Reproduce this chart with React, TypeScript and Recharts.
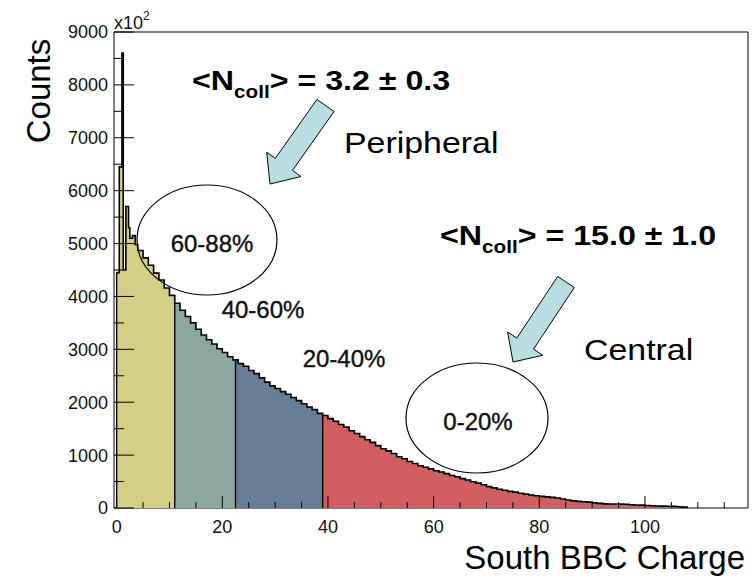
import React from 'react';
import { ComposedChart, Area, Line, XAxis, YAxis, ReferenceLine } from 'recharts';

// Fine bins at the start of the spectrum (low edges) and their counts
const fineEdges = [0, 0.5, 1, 1.25, 1.75, 2.25, 2.5, 3, 3.5];
const fineCounts = [4450, 6450, 8600, 4500, 5700, 5300, 5100, 5150, 4980];

// Unit-width bins starting at charge = 4
const unitStart = 4;
const unitCounts = [
  4870, 4730, 4590, 4440, 4310, 4160, 4020, 3870, 3740, 3620,
  3500, 3380, 3270, 3180, 3100, 3010, 2940, 2860, 2800, 2730,
  2680, 2600, 2540, 2460, 2380, 2310, 2260, 2200, 2150, 2090,
  2030, 1970, 1910, 1860, 1790, 1750, 1690, 1640, 1580, 1530,
  1460, 1410, 1350, 1290, 1240, 1180, 1120, 1080, 1030, 970,
  930, 880, 840, 800, 770, 740, 705, 680, 650, 615,
  590, 555, 530, 495, 470, 440, 405, 380, 355, 335,
  315, 300, 280, 262, 245, 232, 220, 210, 200, 188,
  170, 150, 134, 125, 118, 112, 100, 88, 78, 76,
  75, 74, 70, 62, 58, 55, 48, 42, 38, 35,
  32, 30, 25, 16,
];
const endEdge = 108;

// Centrality classes
const classNames = ['c60_88', 'c40_60', 'c20_40', 'c0_20'];
const classEdges = [0, 11, 22.5, 39, 108];
const classColors = ['#d3cf86', '#8ba8a0', '#667f97', '#d15e60'];
const classLabels = ['60-88%', '40-60%', '20-40%', '0-20%'];

const yTicks = [0, 500, 1000, 1500, 2000, 2500, 3000, 3500, 4000, 4500, 5000, 5500, 6000, 6500, 7000, 7500, 8000, 8500, 9000];
const xTicks = [0, 5, 10, 15, 20, 25, 30, 35, 40, 45, 50, 55, 60, 65, 70, 75, 80, 85, 90, 95, 100, 105, 110, 115];

const edges: number[] = [...fineEdges, ...unitCounts.map((_, i) => unitStart + i), endEdge];
const vals: number[] = [...fineCounts, ...unitCounts, 0];

const binValue = (x: number) => {
  let idx = 0;
  for (let i = 0; i < edges.length; i++) if (edges[i] <= x) idx = i;
  return vals[idx];
};

const allX = Array.from(new Set([...edges, ...classEdges])).sort((a, b) => a - b);
const rows = allX.map((x) => {
  const y = binValue(x);
  const row: any = { x, y };
  classNames.forEach((n, k) => {
    row[n] = x >= classEdges[k] && x <= classEdges[k + 1] ? y : null;
  });
  return row;
});

const FONT = '"Liberation Sans", Arial, Helvetica, sans-serif';

const XTick = (props: any) => {
  const { x, y, payload } = props;
  const v = payload.value;
  const major = v % 20 === 0;
  return (
    <g>
      <line x1={x} x2={x} y1={y} y2={y - (major ? 12 : 6)} stroke="#000" strokeWidth={1} />
      {major && (
        <text x={x} y={y + 25} textAnchor="middle" fontFamily={FONT} fontSize={18} fill="#111">
          {v}
        </text>
      )}
    </g>
  );
};

const YTick = (props: any) => {
  const { x, y, payload } = props;
  const v = payload.value;
  const major = v % 1000 === 0;
  return (
    <g>
      <line x1={x + 6} x2={x + 6 + (major ? 20 : 10)} y1={y} y2={y} stroke="#000" strokeWidth={1} />
      {major && (
        <text x={x} y={y} dy="0.36em" textAnchor="end" fontFamily={FONT} fontSize={18} fill="#111">
          {v}
        </text>
      )}
    </g>
  );
};

type Pt = [number, number];
const arrowPoints = (T: Pt, P: Pt, sw: number, hw: number, hl: number) => {
  const dx = P[0] - T[0];
  const dy = P[1] - T[1];
  const L = Math.hypot(dx, dy);
  const ux = dx / L, uy = dy / L;
  const nx = -uy, ny = ux;
  const B: Pt = [P[0] - ux * hl, P[1] - uy * hl];
  const pts: Pt[] = [
    [T[0] + nx * sw, T[1] + ny * sw],
    [B[0] + nx * sw, B[1] + ny * sw],
    [B[0] + nx * hw, B[1] + ny * hw],
    P,
    [B[0] - nx * hw, B[1] - ny * hw],
    [B[0] - nx * sw, B[1] - ny * sw],
    [T[0] - nx * sw, T[1] - ny * sw],
  ];
  return pts.map((p) => p.join(',')).join(' ');
};

const NcollLabel = ({ x, y, value }: { x: number; y: number; value: string }) => (
  <g transform={`translate(${x},${y}) scale(1.15,1)`}>
    <text x={0} y={0} fontFamily={FONT} fontWeight="bold" fontSize={28} fill="#000">
      {'<N'}
      <tspan fontSize={18} dy={8}>coll</tspan>
      <tspan dy={-8}>{'> = ' + value}</tspan>
    </text>
  </g>
);

const WideText = ({ x, y, children, size }: { x: number; y: number; children: any; size: number }) => (
  <g transform={`translate(${x},${y}) scale(1.13,1)`}>
    <text x={0} y={0} fontFamily={FONT} fontSize={size} fill="#000">
      {children}
    </text>
  </g>
);

export default function App() {
  return (
    <div style={{ position: 'absolute', left: 0, top: 0, width: 756, height: 583, background: '#fff' }}>
      <ComposedChart
        width={756}
        height={583}
        data={rows}
        margin={{ top: 32, right: 8, bottom: 45, left: 54 }}
      >
        <XAxis
          type="number"
          dataKey="x"
          domain={[-0.5, 119.5]}
          ticks={xTicks}
          interval={0}
          tickLine={false}
          tickSize={0}
          tickMargin={0}
          axisLine={{ stroke: '#000', strokeWidth: 1 }}
          tick={<XTick />}
          height={30}
          allowDataOverflow
          zIndex={0}
        />
        <YAxis
          type="number"
          domain={[0, 9000]}
          ticks={yTicks}
          interval={0}
          tickLine={false}
          tickSize={0}
          tickMargin={6}
          axisLine={{ stroke: '#000', strokeWidth: 1 }}
          tick={<YTick />}
          width={60}
          allowDataOverflow
          zIndex={0}
        />
        {classNames.map((n, k) => (
          <Area
            key={n}
            dataKey={n}
            type="stepAfter"
            fill={classColors[k]}
            fillOpacity={1}
            stroke="none"
            isAnimationActive={false}
            dot={false}
            activeDot={false}
          />
        ))}
        <Line
          dataKey="y"
          type="stepAfter"
          stroke="#000"
          strokeWidth={1.6}
          dot={false}
          activeDot={false}
          isAnimationActive={false}
        />
        {classEdges.slice(0, 4).map((b) => (
          <ReferenceLine
            key={'b' + b}
            segment={[{ x: b, y: 0 }, { x: b, y: binValue(b) }]}
            stroke="#000"
            strokeWidth={1.4}
          />
        ))}
        <ReferenceLine y={9000} stroke="#000" strokeWidth={1} />
        <ReferenceLine x={119.5} stroke="#000" strokeWidth={1} />
      </ComposedChart>

      <svg
        width={756}
        height={583}
        style={{ position: 'absolute', left: 0, top: 0, pointerEvents: 'none' }}
      >
        {/* axis titles */}
        <text transform="translate(50,91) rotate(-90)" textAnchor="middle" fontFamily={FONT} fontSize={33} fill="#000">
          Counts
        </text>
        <text x={745} y={569} textAnchor="end" fontFamily={FONT} fontSize={33} fill="#000">
          South BBC Charge
        </text>
        <text x={114} y={29} fontFamily={FONT} fontSize={18} fill="#111">
          x10
          <tspan fontSize={12} dy={-9}>2</tspan>
        </text>

        {/* peripheral annotation */}
        <NcollLabel x={192} y={90} value="3.2 ± 0.3" />
        <polygon points={arrowPoints([325.5, 105.5], [270, 184], 10.5, 21, 24)} fill="#b9dee2" stroke="#000" strokeWidth={1} />
        <WideText x={344} y={153} size={30}>Peripheral</WideText>
        <ellipse cx={207} cy={240} rx={70} ry={55} fill="none" stroke="#000" strokeWidth={1.2} />
        <text x={212} y={252} textAnchor="middle" fontFamily={FONT} fontSize={24} fill="#111" stroke="#111" strokeWidth={0.4}>
          {classLabels[0]}
        </text>
        <text x={263} y={318} textAnchor="middle" fontFamily={FONT} fontSize={24} fill="#111" stroke="#111" strokeWidth={0.4}>
          {classLabels[1]}
        </text>
        <text x={344} y={367} textAnchor="middle" fontFamily={FONT} fontSize={24} fill="#111" stroke="#111" strokeWidth={0.4}>
          {classLabels[2]}
        </text>

        {/* central annotation */}
        <NcollLabel x={440} y={245} value="15.0 ± 1.0" />
        <polygon points={arrowPoints([566, 282], [513, 362], 10, 21, 22)} fill="#b9dee2" stroke="#000" strokeWidth={1} />
        <WideText x={584} y={360} size={30}>Central</WideText>
        <ellipse cx={477} cy={418} rx={71} ry={55} fill="none" stroke="#000" strokeWidth={1.2} />
        <text x={478} y={430} textAnchor="middle" fontFamily={FONT} fontSize={24} fill="#111" stroke="#111" strokeWidth={0.4}>
          {classLabels[3]}
        </text>
      </svg>
    </div>
  );
}
